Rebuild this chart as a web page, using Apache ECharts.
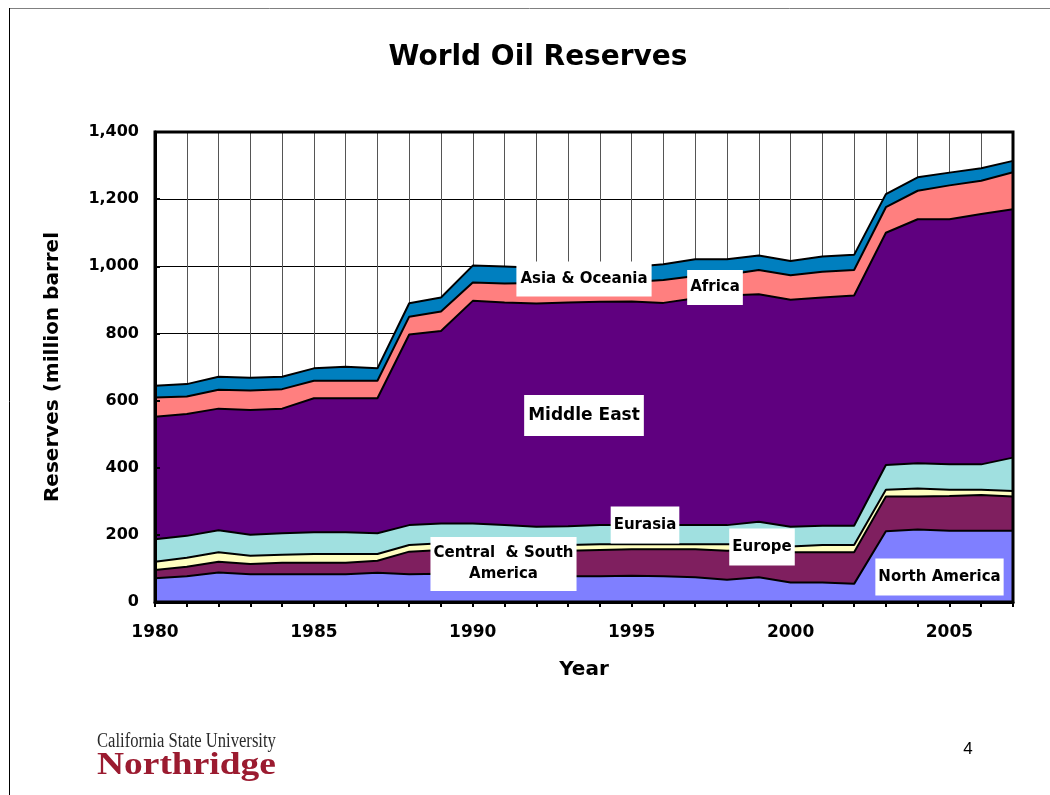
<!DOCTYPE html>
<html>
<head>
<meta charset="utf-8">
<script src="https://cdn.jsdelivr.net/npm/echarts@6/dist/echarts.min.js"></script>
<style>
html,body{margin:0;padding:0;background:#fff;}
#c{width:1050px;height:795px;}
</style>
</head>
<body>
<div id="c"></div>
<script>
// ---- data (million barrels) ----
const years = ['1980','1981','1982','1983','1984','1985','1986','1987','1988','1989',
               '1990','1991','1992','1993','1994','1995','1996','1997','1998','1999',
               '2000','2001','2002','2003','2004','2005','2006','2007'];
const northAmerica   = [71,77,88,83,83,83,83,87,83,84,82,80,79,77,77,78,77,74,66,74,58,58,54,211,216,212,212,212];
const centralSouthAm = [24,28,32,30,34,34,34,36,67,71,75,75,75,76,78,79,80,83,87,81,90,90,94,103,98,104,107,102];
const europe         = [25,27,28,25,24,26,26,20,20,20,19,18,17,17,17,15,15,15,19,17,17,22,22,20,24,18,15,17];
const eurasia        = [67,65,66,62,64,65,65,62,59,59,58,56,53,56,57,57,57,57,57,67,59,57,57,74,75,76,76,99];
const middleEast     = [365,363,362,372,371,399,399,402,568,573,663,663,665,666,665,666,662,676,684,678,676,680,686,692,727,730,746,740];
const africa         = [57,52,56,58,58,52,52,52,53,58,55,57,61,59,58,58,68,66,62,72,73,77,76,76,85,101,99,110];
const asiaOceania    = [35,37,39,38,37,37,42,37,40,42,50,50,46,44,44,45,47,50,46,43,43,45,45,39,40,38,37,34];
const xTickLabels = ['1980','1985','1990','1995','2000','2005'];
const yMin = 0, yMax = 1400, yStep = 200;

const seriesDefs = [
  {name:'North America', data:northAmerica, color:'#7F7FFF'},
  {name:'Central & South America', data:centralSouthAm, color:'#7F1F5F'},
  {name:'Europe', data:europe, color:'#FFFFC0'},
  {name:'Eurasia', data:eurasia, color:'#A0E0E0'},
  {name:'Middle East', data:middleEast, color:'#5F007F'},
  {name:'Africa', data:africa, color:'#FF7F7F'},
  {name:'Asia & Oceania', data:asiaOceania, color:'#007FBF'}
];

const FONT = 'DejaVu Sans';
const plot = {left:155, top:132, right:1013, bottom:602};

function boxLabel(text, x, y, size, padV, padH) {
  return {
    type:'text', z:50, x:x, y:y,
    style:{text:text, fill:'#000', font:'bold '+size+'px "'+FONT+'"',
      align:'center', verticalAlign:'middle', backgroundColor:'#fff',
      padding:[padV,padH,padV,padH], lineHeight:size+6}
  };
}

const chart = echarts.init(document.getElementById('c'), null, {renderer:'canvas'});
chart.setOption({
  backgroundColor:'#fff',
  animation:false,
  grid:{left:plot.left, top:plot.top, width:plot.right-plot.left, height:plot.bottom-plot.top, show:false},
  xAxis:[
    {type:'category', data:years, boundaryGap:false, position:'bottom', z:10,
     axisLine:{show:true, lineStyle:{color:'#000', width:3}},
     axisTick:{show:true, interval:0, inside:false, length:5, lineStyle:{color:'#000', width:2}},
     axisLabel:{interval:(i, v) => xTickLabels.indexOf(v) >= 0, margin:22, color:'#000',
       fontFamily:FONT, fontWeight:'bold', fontSize:17},
     splitLine:{show:false},
     name:'Year', nameLocation:'middle', nameGap:58,
     nameTextStyle:{color:'#000', fontFamily:FONT, fontWeight:'bold', fontSize:20}},
    {type:'category', data:years, boundaryGap:false, position:'top', z:0,
     axisLine:{show:false}, axisTick:{show:false}, axisLabel:{show:false},
     splitLine:{show:true, interval:0, lineStyle:{color:'#555', width:1}}}
  ],
  yAxis:[
    {type:'value', min:yMin, max:yMax, interval:yStep, position:'left', z:10,
     axisLine:{show:true, lineStyle:{color:'#000', width:3}},
     axisTick:{show:true, inside:true, length:5, lineStyle:{color:'#000', width:2}},
     axisLabel:{margin:16, color:'#000', fontFamily:FONT, fontWeight:'bold', fontSize:16,
       formatter:v => v.toLocaleString('en-US')},
     splitLine:{show:false},
     name:'Reserves (million barrels)', nameLocation:'middle', nameGap:92, nameRotate:90,
     nameTruncate:{maxWidth:278, ellipsis:''},
     nameTextStyle:{color:'#000', fontFamily:FONT, fontWeight:'bold', fontSize:20}},
    {type:'value', min:yMin, max:yMax, interval:yStep, position:'right', z:0,
     axisLine:{show:false}, axisTick:{show:false}, axisLabel:{show:false},
     splitLine:{show:true, lineStyle:{color:'#000', width:1}}}
  ],
  series: seriesDefs.map(s => ({
    name:s.name, type:'line', stack:'total', data:s.data,
    xAxisIndex:0, yAxisIndex:0,
    symbol:'none', smooth:false, z:2,
    lineStyle:{color:'#000', width:2},
    areaStyle:{color:s.color, opacity:1}
  })),
  graphic:[
    // slide frame
    {type:'line', z:1, shape:{x1:9, y1:8.5, x2:1050, y2:8.5}, style:{stroke:'#808080', lineWidth:1}},
    {type:'line', z:1, shape:{x1:9.5, y1:8, x2:9.5, y2:795}, style:{stroke:'#000', lineWidth:1}},
    // plot frame
    {type:'rect', z:40, shape:{x:plot.left, y:plot.top, width:plot.right-plot.left, height:plot.bottom-plot.top},
     style:{fill:null, stroke:'#000', lineWidth:3}},
    // title
    {type:'text', z:50, x:538, y:58, style:{text:'World Oil Reserves', fill:'#000',
      font:'bold 28px "'+FONT+'"', align:'center', verticalAlign:'middle'}},
    // region labels
    boxLabel('Asia & Oceania', 584, 279, 15, 7, 4),
    boxLabel('Africa', 715, 287.5, 15, 7, 3),
    boxLabel('Middle East', 584, 415.5, 17, 9, 4),
    boxLabel('Eurasia', 645, 525, 15, 8, 3),
    boxLabel('Central  & South\nAmerica', 503.5, 564, 15, 6, 3),
    boxLabel('Europe', 762, 547, 15, 8, 3),
    boxLabel('North America', 939.5, 577, 15, 8, 3),
    // logo
    {type:'text', z:50, x:97, y:742, scaleX:0.83, style:{text:'California State University', fill:'#2a2a2a',
      font:'20px "Liberation Serif"', align:'left', verticalAlign:'middle'}},
    {type:'text', z:50, x:97, y:766, scaleX:1.17, style:{text:'Northridge', fill:'#9B1B30',
      font:'bold 32px "Liberation Serif"', align:'left', verticalAlign:'middle'}},
    // page number
    {type:'text', z:50, x:968, y:749, style:{text:'4', fill:'#000',
      font:'17px "Liberation Sans"', align:'center', verticalAlign:'middle'}}
  ]
});
</script>
</body>
</html>
